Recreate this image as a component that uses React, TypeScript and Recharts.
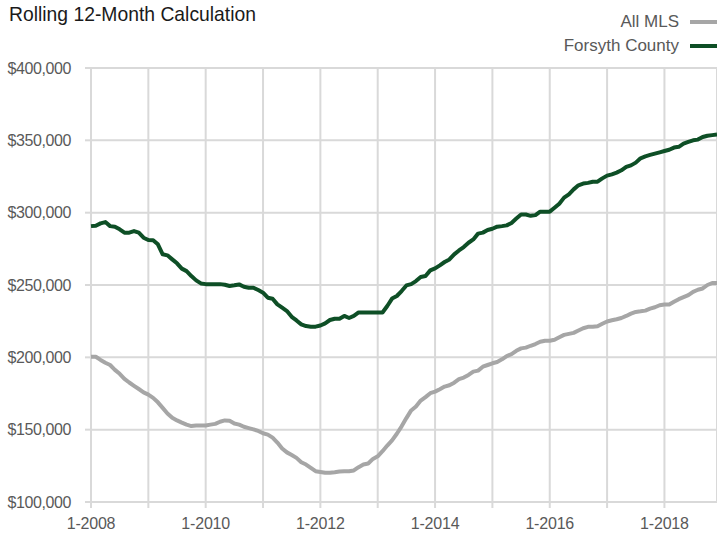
import React from "react";
import { LineChart, Line, XAxis, YAxis, CartesianGrid } from "recharts";

// rolling 12-month median, in $ thousands, Jan 2008 .. Dec 2018
const START_YEAR = 2008;

const allMls = [
  200.4, 200.4, 198.2, 196.3, 194.7, 191.3, 188.6, 185.1, 182.6, 180.3, 178.1, 175.8,
  174.2, 172.0, 168.9, 165.1, 161.2, 158.2, 156.4, 154.9, 153.5, 152.5, 152.9, 152.9,
  152.9, 153.5, 154.0, 155.5, 156.4, 156.2, 154.3, 153.5, 152.0, 151.1, 150.2, 149.1,
  147.5, 146.6, 144.5, 141.1, 137.0, 134.3, 132.5, 130.5, 127.5, 125.9, 123.6, 121.3,
  120.8, 120.2, 120.2, 120.6, 121.1, 121.3, 121.3, 121.8, 124.1, 125.9, 126.6, 129.8,
  131.6, 135.1, 139.0, 142.6, 147.2, 152.3, 158.0, 163.3, 166.0, 170.1, 172.5, 175.2,
  176.3, 178.0, 179.8, 180.7, 182.5, 184.9, 186.0, 187.8, 190.1, 190.8, 193.5, 194.7,
  195.9, 196.8, 198.6, 200.9, 202.2, 204.5, 206.2, 206.7, 208.0, 209.2, 210.8, 211.5,
  211.5, 212.2, 213.9, 215.5, 216.2, 216.9, 218.5, 220.1, 221.1, 221.1, 221.5, 223.2,
  224.8, 225.6, 226.3, 227.2, 228.6, 230.2, 231.4, 231.8, 232.3, 233.7, 234.6, 236.0,
  236.5, 236.5, 238.4, 240.2, 241.6, 243.0, 245.3, 246.7, 247.6, 250.0, 251.4, 251.4,
];

const forsyth = [
  290.7, 291.0, 292.6, 293.5, 290.7, 290.3, 288.5, 286.2, 286.2, 287.3, 286.2, 282.7,
  281.1, 280.9, 278.1, 271.2, 270.5, 267.7, 265.0, 261.3, 259.6, 256.2, 253.2, 251.1,
  250.6, 250.6, 250.6, 250.6, 250.2, 249.3, 249.8, 250.4, 248.8, 248.1, 248.1, 246.5,
  244.7, 241.2, 240.5, 236.6, 234.3, 232.0, 228.0, 225.5, 222.8, 221.6, 221.2, 221.2,
  222.0, 223.5, 225.8, 226.7, 226.7, 228.6, 227.2, 228.6, 231.0, 231.0, 231.0, 231.0,
  231.0, 231.0, 235.5, 240.6, 242.4, 245.8, 249.7, 250.6, 252.7, 255.5, 256.2, 260.1,
  261.5, 263.6, 265.9, 267.7, 271.2, 273.9, 276.2, 279.2, 281.5, 285.5, 286.2, 288.0,
  288.9, 290.3, 290.7, 291.2, 292.9, 295.9, 298.7, 298.7, 297.8, 298.3, 300.7, 300.7,
  300.7, 303.4, 306.2, 310.4, 312.7, 316.1, 318.9, 320.1, 320.6, 321.4, 321.4, 323.7,
  325.6, 326.5, 327.7, 329.3, 331.6, 332.7, 334.6, 337.6, 338.9, 339.9, 340.8, 341.7,
  342.6, 343.5, 345.0, 345.5, 347.7, 348.9, 350.0, 350.5, 352.3, 353.2, 353.6, 354.0,
];

const yTicks = [100000, 150000, 200000, 250000, 300000, 350000, 400000];
const yearTicks = [0, 12, 24, 36, 48, 60, 72, 84, 96, 108, 120];

const data = allMls.map((v, i) => ({
  m: i,
  allMls: v * 1000,
  forsyth: forsyth[i] * 1000,
}));

const FONT = '"Liberation Sans", Arial, sans-serif';
const GRID = "#d9d9d9";
const GRAY = "#a6a6a6";
const GREEN = "#0e4f26";
const LABEL = "#595959";

const fmtDollar = (v: number) => "$" + v.toLocaleString("en-US");
const fmtMonth = (v: number) => (v % 24 === 0 ? `1-${START_YEAR + v / 12}` : "");

const legendItems = [
  { name: "All MLS", color: GRAY },
  { name: "Forsyth County", color: GREEN },
];

export default function App() {
  return (
    <div
      style={{
        position: "absolute",
        left: 0,
        top: 0,
        width: 717,
        height: 533,
        background: "#fff",
        fontFamily: FONT,
        overflow: "hidden",
      }}
    >
      <div
        style={{
          position: "absolute",
          left: 9,
          top: 2,
          fontSize: 21,
          color: "#1a1a1a",
          whiteSpace: "nowrap",
          transform: "scaleX(0.92)",
          transformOrigin: "left top",
        }}
      >
        Rolling 12-Month Calculation
      </div>

      <div style={{ position: "absolute", right: 0, top: 10 }}>
        {legendItems.map((it) => (
          <div
            key={it.name}
            style={{
              display: "flex",
              alignItems: "center",
              justifyContent: "flex-end",
              height: 24,
              fontSize: 17,
              color: LABEL,
            }}
          >
            <span>{it.name}</span>
            <span
              style={{
                display: "inline-block",
                width: 27,
                height: 4,
                marginLeft: 11,
                background: it.color,
              }}
            />
          </div>
        ))}
      </div>

      <LineChart
        width={717}
        height={533}
        data={data}
        margin={{ top: 68, right: 0, bottom: 0, left: 0 }}
        style={{ position: "absolute", left: 0, top: 0 }}
      >
        <CartesianGrid stroke={GRID} strokeWidth={2} />
        <XAxis
          dataKey="m"
          type="number"
          domain={[0, 131]}
          ticks={yearTicks}
          tickFormatter={fmtMonth}
          axisLine={false}
          tickLine={{ stroke: GRID, strokeWidth: 2 }}
          tickSize={6}
          tickMargin={10}
          height={31}
          interval={0}
          tick={{ fontSize: 16, fill: LABEL, fontFamily: FONT, letterSpacing: -0.2 }}
        />
        <YAxis
          domain={[100000, 400000]}
          ticks={yTicks}
          tickFormatter={fmtDollar}
          axisLine={false}
          tickLine={{ stroke: GRID, strokeWidth: 2 }}
          tickSize={6}
          tickMargin={14}
          width={91}
          interval={0}
          tick={{ fontSize: 16, fill: LABEL, fontFamily: FONT, letterSpacing: -0.4 }}
        />
        <Line
          dataKey="allMls"
          type="linear"
          stroke={GRAY}
          strokeWidth={4}
          strokeLinejoin="round"
          dot={false}
          isAnimationActive={false}
        />
        <Line
          dataKey="forsyth"
          type="linear"
          stroke={GREEN}
          strokeWidth={4}
          strokeLinejoin="round"
          dot={false}
          isAnimationActive={false}
        />
      </LineChart>
    </div>
  );
}
